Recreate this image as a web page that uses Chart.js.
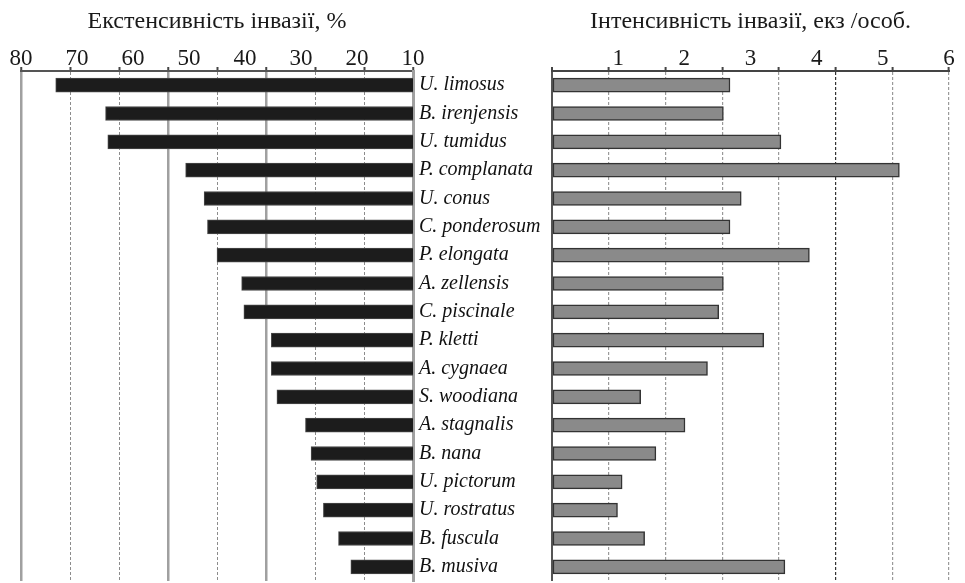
<!DOCTYPE html>
<html>
<head>
<meta charset="utf-8">
<script src="https://cdn.jsdelivr.net/npm/chart.js@4.4.1/dist/chart.umd.min.js"></script>
<style>
  html, body { margin: 0; padding: 0; background: #fff; overflow: hidden; }
  #left { position: absolute; left: 0; top: 0; }
  #right { position: absolute; left: 540px; top: 0; }
</style>
</head>
<body>
<canvas id="left" width="552" height="583"></canvas>
<canvas id="right" width="425" height="583"></canvas>
<script>
const species = ['U. limosus', 'B. irenjensis', 'U. tumidus', 'P. complanata', 'U. conus',
  'C. ponderosum', 'P. elongata', 'A. zellensis', 'C. piscinale', 'P. kletti', 'A. cygnaea',
  'S. woodiana', 'A. stagnalis', 'B. nana', 'U. pictorum', 'U. rostratus', 'B. fuscula', 'B. musiva']
const extensity = [73.8, 64.9, 64.5, 50.6, 47.3, 46.7, 45.0, 40.6, 40.2, 35.3, 35.3,
  34.3, 29.2, 28.2, 27.2, 26.0, 23.3, 21.1]
const intensity = [2.69, 2.59, 3.46, 5.25, 2.86, 2.69, 3.89, 2.59, 2.52, 3.20, 2.35,
  1.34, 2.01, 1.57, 1.06, 0.99, 1.40, 3.52]
const extTickLabels = ['80', '70', '60', '50', '40', '30', '20', '10']
const intTickLabels = ['', '1', '2', '3', '4', '5', '6']

const serif = "'Liberation Serif', 'Times New Roman', serif"

function titleOpts (text) {
  return {
    display: true,
    text: text,
    fullSize: false,
    color: '#1a1a1a',
    font: { family: serif, size: 24, weight: 'normal' },
    padding: { top: 7.6, bottom: 11.6 }
  }
}

function labelAxis (labels) {
  return {
    type: 'category',
    labels: labels,
    position: 'top',
    offset: false,
    weight: 1,
    grid: { display: false, drawTicks: false },
    border: { display: false },
    ticks: { padding: -3, color: '#1a1a1a', autoSkip: false, maxRotation: 0, font: { family: serif, size: 23 } },
    afterFit: (s) => { s.height = 22 }
  }
}

// left panel: extensity
new Chart(document.getElementById('left'), {
  type: 'bar',
  data: {
    labels: species,
    datasets: [{
      data: extensity,
      xAxisID: 'xg',
      backgroundColor: '#1c1c1c',
      borderColor: '#4a4a4a',
      borderWidth: 1,
      barThickness: 14
    }]
  },
  options: {
    responsive: false,
    animation: false,
    indexAxis: 'y',
    layout: { padding: { left: 21, right: 0, top: 0, bottom: 2 } },
    plugins: {
      legend: { display: false },
      tooltip: { enabled: false },
      title: titleOpts('Екстенсивність інвазії, %')
    },
    scales: {
      xl: labelAxis(extTickLabels),
      xg: {
        type: 'linear',
        position: 'top',
        reverse: true,
        min: 10,
        max: 80,
        weight: 0,
        ticks: { display: false, count: 9 },
        grid: {
          color: (ctx) => [0, 3, 5, 8].includes(ctx.index) ? '#a0a0a0' : '#8c8c8c',
          lineWidth: (ctx) => [0, 3, 5, 8].includes(ctx.index) ? 2.5 : 1,
          tickLength: 4,
          tickColor: '#444',
          tickWidth: 2
        },
        border: {
          color: '#555',
          width: 2,
          dash: (ctx) => [0, 3, 5, 8].includes(ctx.index) ? [] : [3, 2]
        },
        afterFit: (s) => { s.height = 1 }
      },
      y: {
        type: 'category',
        position: 'right',
        grid: { display: false, drawTicks: false },
        border: { color: '#a0a0a0', width: 3 },
        ticks: { padding: 6, color: '#111', font: { family: serif, size: 20, style: 'italic' } },
        afterFit: (s) => {
          s.width = 139
          s.paddingTop = 0
          s.paddingBottom = 0
        }
      }
    }
  }
})

// right panel: intensity
new Chart(document.getElementById('right'), {
  type: 'bar',
  data: {
    labels: species,
    datasets: [{
      data: intensity,
      xAxisID: 'xg',
      backgroundColor: '#8a8a8a',
      borderColor: '#333',
      borderWidth: 1.5,
      borderSkipped: false,
      barThickness: 14
    }]
  },
  options: {
    responsive: false,
    animation: false,
    indexAxis: 'y',
    layout: { padding: { left: 12, right: 16, top: 0, bottom: 2 } },
    plugins: {
      legend: { display: false },
      tooltip: { enabled: false },
      title: titleOpts('Інтенсивність інвазії, екз /особ.')
    },
    scales: {
      xl: labelAxis(intTickLabels),
      xg: {
        type: 'linear',
        position: 'top',
        min: 0,
        max: 6,
        weight: 0,
        ticks: { display: false, count: 8 },
        grid: {
          color: (ctx) => ctx.index === 0 ? '#555' : (ctx.index === 5 ? '#333' : '#9a9a9a'),
          lineWidth: (ctx) => ctx.index === 0 ? 2 : 1.2,
          tickLength: 4,
          tickColor: '#444',
          tickWidth: 2
        },
        border: {
          color: '#444',
          width: 2,
          dash: (ctx) => ctx.index === 0 ? [] : [3, 2]
        },
        afterFit: (s) => { s.height = 1 }
      },
      y: { type: 'category', display: false }
    }
  }
})
</script>
</body>
</html>
